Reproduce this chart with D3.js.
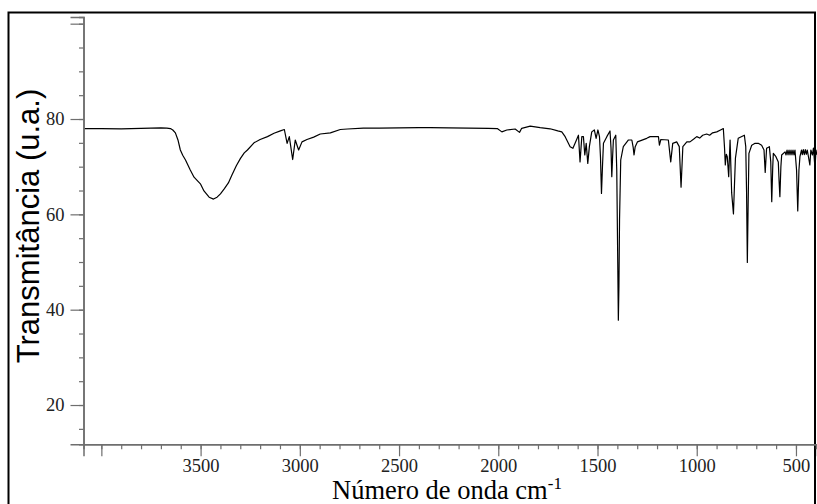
<!DOCTYPE html>
<html>
<head>
<meta charset="utf-8">
<script src="https://cdn.jsdelivr.net/npm/d3@7"></script>
<style>
  html, body { margin: 0; padding: 0; background: #fff; }
</style>
</head>
<body>
<div id="chart"></div>
<script>
// Spectrum (wavenumber in cm-1, transmittance in u.a.)
const waveNumbers = [
  4088, 4000, 3900, 3800, 3750, 3700, 3670, 3652, 3640, 3627, 3614, 3602, 3590, 3576,
  3552, 3533, 3501, 3483, 3457, 3435, 3417, 3400, 3380, 3360, 3342, 3320, 3299, 3280,
  3264, 3231, 3200, 3163, 3130, 3098, 3078, 3064,
  3053, 3036, 3023, 3006, 2989, 2964, 2930, 2897, 2846, 2796, 2760, 2680, 2600, 2500,
  2400, 2343, 2250, 2150, 2050, 2005, 1982, 1957, 1915, 1893, 1882, 1839, 1789, 1739,
  1700, 1680, 1663, 1638, 1624, 1613, 1596, 1588, 1579, 1571, 1564, 1557, 1549, 1541,
  1529, 1516, 1507, 1498, 1490, 1485, 1480, 1475, 1470, 1453, 1437, 1432, 1428, 1424,
  1420, 1408, 1403, 1398, 1395, 1392, 1389, 1383, 1370, 1344, 1327, 1320, 1316, 1310,
  1299, 1252, 1235, 1193, 1188, 1181, 1143, 1131, 1121, 1101, 1088, 1079, 1070, 1050,
  1034, 1015, 1000, 985, 970, 950, 935, 920, 899, 880, 866, 860, 856, 851, 846, 839,
  832, 828, 824, 815, 810, 805, 791, 760, 753, 749, 745, 741, 737, 723, 706, 690, 673,
  661, 655, 648, 634, 627, 622, 617, 614, 601, 589, 585, 581, 576, 572, 555, 550, 545,
  540, 535, 530, 525, 520, 515, 510, 505, 497, 491, 485, 480, 472, 468, 463, 458, 453,
  448, 443, 430, 425, 417, 412, 404, 399, 395
];
const transmittance = [
  78.0, 78.0, 77.95, 78.05, 78.1, 78.15, 78.1, 78.0, 77.7, 77.1, 75.6, 73.5, 72.4, 71.4,
  69.3, 67.8, 66.4, 64.9, 63.6, 63.2, 63.6, 64.3, 65.4, 66.6, 68.25, 70.2, 71.75, 72.9,
  73.5, 75.0, 75.7, 76.3, 77.0, 77.5, 77.8, 74.9,
  76.3, 71.5, 75.6, 73.5, 75.2, 75.7, 76.2, 76.85, 77.1, 77.8, 77.9, 78.1, 78.1, 78.15,
  78.2, 78.2, 78.15, 78.1, 78.05, 78.0, 77.3, 77.7, 77.9, 77.2, 78.05, 78.5, 78.2, 77.95,
  77.5, 77.3, 76.3, 74.2, 73.85, 74.9, 76.6, 71.0, 76.3, 76.3, 72.45, 74.9, 70.7, 74.2,
  77.3, 77.7, 75.95, 77.7, 76.3, 72.0, 64.4, 70.0, 74.9, 76.3, 77.5, 74.0, 67.9, 72.0,
  75.6, 76.6, 69.3, 50.0, 37.8, 45.0, 58.8, 71.4, 74.2, 75.6, 75.6, 74.0, 72.45, 74.2,
  75.2, 75.95, 76.3, 76.3, 74.5, 75.7, 75.6, 71.0, 74.9, 75.2, 74.2, 65.7, 74.2, 75.2,
  75.2, 75.8, 76.3, 76.0, 76.6, 76.85, 76.6, 77.1, 77.3, 77.7, 78.0, 74.0, 70.35, 72.6, 72.1, 67.9,
  75.6, 70.0, 64.5, 60.1, 66.0, 71.8, 75.95, 76.6, 74.2, 65.0, 49.9, 62.0, 72.8, 74.5, 74.9, 74.9, 74.5,
  73.5, 68.8, 73.85, 74.2, 71.0, 62.65, 70.0, 72.8, 72.1, 71.0, 67.0, 63.7, 70.0, 72.45, 73.1, 72.45, 73.5,
  72.45, 73.5, 72.45, 73.5, 72.45, 73.5, 72.45, 73.5, 69.3, 60.7, 69.3, 72.1, 73.5, 72.5, 73.6, 72.5, 73.6,
  72.6, 73.5, 70.35, 73.5, 72.45, 73.9, 69.7, 73.5, 72.5
];

const xMajorTicks = [4000, 3500, 3000, 2500, 2000, 1500, 1000, 500];
const xUnlabeled = [4000];
const yMajorTicks = [20, 40, 60, 80, 100];
const yUnlabeled = [100];

const width = 817;
const height = 504;

const x = d3.scaleLinear().domain([4090, 394]).range([83.5, 817]);
const y = d3.scaleLinear().domain([11.76, 101.4]).range([444.3, 17]);

const svg = d3.select("#chart")
  .append("svg")
    .attr("width", width)
    .attr("height", height)
    .attr("viewBox", [0, 0, width, height]);

// frame round the figure
svg.append("rect")
  .attr("x", 8.5).attr("y", 12.5)
  .attr("width", 806.5).attr("height", 500)
  .attr("fill", "none")
  .attr("stroke", "#000")
  .attr("stroke-width", 2);

const data = waveNumbers.map((w, i) => ({w, t: transmittance[i]}));

svg.append("path")
  .datum(data)
  .attr("fill", "none")
  .attr("stroke", "#000")
  .attr("stroke-width", 1.2)
  .attr("stroke-linejoin", "round")
  .attr("d", d3.line().x(d => x(d.w)).y(d => y(d.t)));

const axisColor = "#6e6e6e";
const styleAxis = g => {
  g.select(".domain").attr("stroke", axisColor).attr("stroke-width", 1.5);
  g.selectAll(".tick line").attr("stroke", axisColor).attr("stroke-width", 1.2);
  g.selectAll(".tick text")
    .attr("fill", "#222")
    .style("font-family", "'Liberation Serif', 'Times New Roman', serif")
    .style("font-size", "18.5px");
};

// minor ticks every 100 cm-1
svg.append("g")
  .attr("transform", `translate(0,${y.range()[0]})`)
  .call(d3.axisBottom(x).tickValues(d3.range(400, 4100, 100)).tickSize(5).tickFormat(""))
  .call(styleAxis);

svg.append("g")
  .attr("transform", `translate(0,${y.range()[0]})`)
  .call(d3.axisBottom(x).tickValues(xMajorTicks).tickSize(12).tickPadding(3)
    .tickFormat(d => xUnlabeled.includes(d) ? "" : d))
  .call(styleAxis);

// minor ticks every 5
svg.append("g")
  .attr("transform", `translate(${x.range()[0]},0)`)
  .call(d3.axisLeft(y).tickValues(d3.range(15, 101, 5)).tickSize(4.5).tickFormat(""))
  .call(styleAxis);

svg.append("g")
  .attr("transform", `translate(${x.range()[0]},0)`)
  .call(d3.axisLeft(y).tickValues(yMajorTicks).tickSize(13).tickPadding(6)
    .tickFormat(d => yUnlabeled.includes(d) ? "" : d))
  .call(styleAxis);

// axis titles
const xTitle = svg.append("text")
  .attr("x", 447)
  .attr("y", 499)
  .attr("text-anchor", "middle")
  .attr("fill", "#000")
  .style("font-family", "'Liberation Serif', 'Times New Roman', serif")
  .style("font-size", "26.5px");
xTitle.append("tspan").text("Número de onda cm");
xTitle.append("tspan").attr("dy", -10).style("font-size", "17px").text("-1");

svg.append("text")
  .attr("transform", "rotate(-90)")
  .attr("x", -226)
  .attr("y", 39)
  .attr("text-anchor", "middle")
  .attr("fill", "#000")
  .style("font-family", "'Liberation Sans', Arial, sans-serif")
  .style("font-size", "31px")
  .text("Transmitância (u.a.)");
</script>
</body>
</html>
